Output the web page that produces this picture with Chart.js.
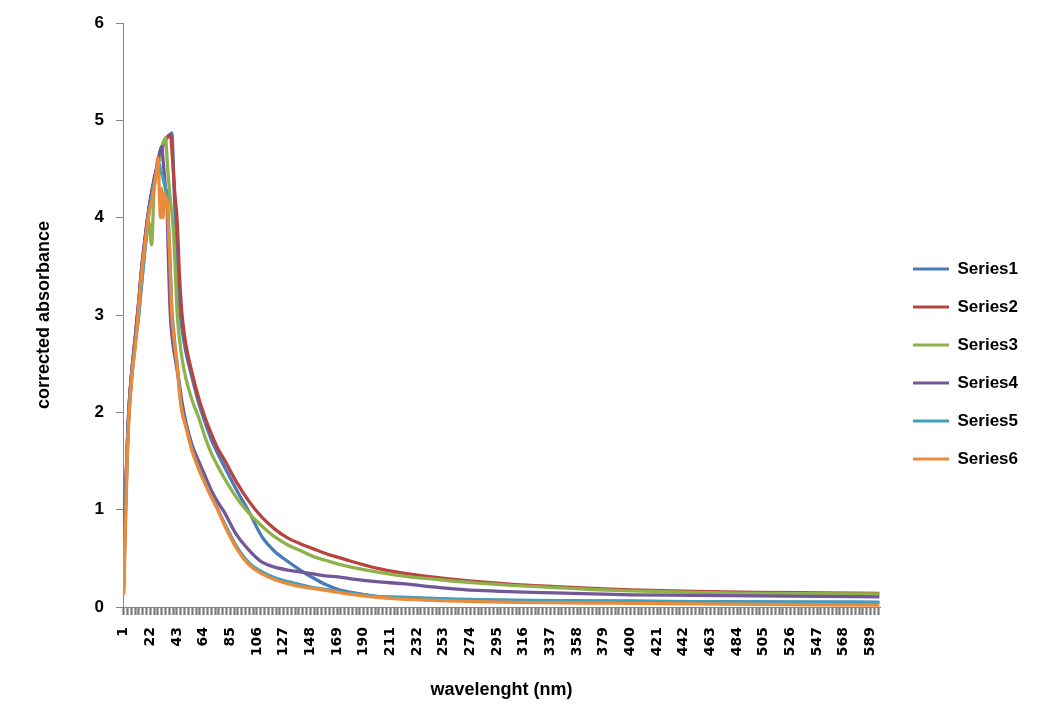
<!DOCTYPE html>
<html>
<head>
<meta charset="utf-8">
<script src="https://cdn.jsdelivr.net/npm/chart.js@4/dist/chart.umd.min.js"></script>
<style>
  body { margin: 0; background: #fff; }
</style>
</head>
<body>
<canvas id="myChart" width="1039" height="726"></canvas>
<script>
// posiciones (categorias)
const puntos = [1, 2, 3, 4, 5, 6, 8, 10, 13, 15, 18, 21, 23, 25, 27,
  28, 29, 30, 31, 32, 33, 34, 35, 36, 37, 38, 39, 40, 41, 42, 43,
  45, 47, 50, 55, 60, 65, 70, 75, 80, 90, 100, 110, 120, 130, 140, 150, 160, 170, 180,
  200, 220, 250, 280, 310, 340, 370, 400, 450, 500, 550, 596]

const series1 = [0.5, 0.95, 1.3, 1.7, 2.0, 2.2, 2.5, 2.75, 3.15, 3.45, 3.8, 4.1, 4.25, 4.38, 4.5,
  4.55, 4.6, 4.65, 4.7, 4.74, 4.77, 4.8, 4.82, 4.84, 4.85, 4.86, 4.87, 4.6, 4.2, 3.9, 3.6,
  3.1, 2.85, 2.62, 2.35, 2.1, 1.9, 1.72, 1.58, 1.45, 1.2, 0.97, 0.72, 0.57, 0.47, 0.38, 0.3, 0.23, 0.18, 0.15,
  0.11, 0.09, 0.08, 0.07, 0.066, 0.063, 0.06, 0.058, 0.055, 0.052, 0.05, 0.048]
const series2 = [0.6, 1.0, 1.35, 1.7, 2.0, 2.2, 2.5, 2.75, 3.15, 3.45, 3.8, 4.1, 4.25, 4.38, 4.5,
  4.55, 4.6, 4.65, 4.7, 4.74, 4.77, 4.8, 4.82, 4.83, 4.84, 4.85, 4.7, 4.5, 4.3, 4.15, 4.0,
  3.4, 3.0, 2.7, 2.4, 2.15, 1.95, 1.78, 1.63, 1.52, 1.28, 1.08, 0.92, 0.8, 0.71, 0.65, 0.6, 0.55, 0.51, 0.47,
  0.4, 0.35, 0.3, 0.26, 0.23, 0.21, 0.19, 0.175, 0.16, 0.15, 0.145, 0.14]
const series3 = [0.2, 0.8, 1.25, 1.65, 1.95, 2.15, 2.45, 2.7, 3.05, 3.3, 3.7, 3.95, 3.72, 4.3, 4.45,
  4.55, 4.6, 4.68, 4.73, 4.77, 4.8, 4.82, 4.65, 4.45, 4.3, 4.15, 4.05, 3.9, 3.65, 3.35, 3.05,
  2.75, 2.55, 2.35, 2.12, 1.95, 1.75, 1.58, 1.45, 1.33, 1.12, 0.96, 0.83, 0.72, 0.64, 0.58, 0.52, 0.48, 0.44, 0.41,
  0.36, 0.32, 0.28, 0.245, 0.22, 0.2, 0.18, 0.165, 0.15, 0.14, 0.137, 0.134]
const series4 = [0.7, 1.0, 1.35, 1.7, 2.0, 2.2, 2.5, 2.75, 3.15, 3.45, 3.8, 4.1, 4.25, 4.4, 4.52,
  4.6, 4.65, 4.7, 4.73, 4.6, 4.45, 4.3, 4.2, 3.7, 3.25, 2.95, 2.8, 2.68, 2.6, 2.52, 2.44,
  2.28, 2.1, 1.9, 1.66, 1.5, 1.35, 1.2, 1.08, 0.98, 0.74, 0.58, 0.46, 0.41, 0.38, 0.36, 0.34, 0.32, 0.31, 0.29,
  0.26, 0.24, 0.2, 0.17, 0.155, 0.145, 0.135, 0.125, 0.12, 0.115, 0.11, 0.105]
const series5 = [0.15, 0.7, 1.2, 1.6, 1.95, 2.15, 2.45, 2.7, 3.0, 3.3, 3.7, 4.05, 4.2, 4.35, 4.45,
  4.58, 4.55, 4.5, 4.45, 4.4, 4.35, 4.3, 4.25, 4.05, 3.75, 3.4, 3.05, 2.9, 2.75, 2.62, 2.52,
  2.22, 2.02, 1.86, 1.61, 1.43, 1.28, 1.14, 1.01, 0.87, 0.62, 0.45, 0.36, 0.3, 0.26, 0.23, 0.2, 0.18, 0.16, 0.14,
  0.11, 0.1, 0.085, 0.075, 0.07, 0.066, 0.063, 0.062, 0.056, 0.052, 0.05, 0.048]
const series6 = [0.12, 0.6, 1.1, 1.6, 1.9, 2.1, 2.45, 2.65, 3.1, 3.4, 3.75, 4.05, 4.15, 4.3, 4.5,
  4.62, 4.3, 4.0, 4.3, 4.0, 4.25, 4.2, 4.2, 4.0, 3.7, 3.35, 3.0, 2.85, 2.72, 2.6, 2.5,
  2.2, 2.0, 1.85, 1.6, 1.42, 1.27, 1.13, 1.0, 0.85, 0.6, 0.43, 0.34, 0.28, 0.24, 0.21, 0.19, 0.17, 0.15, 0.13,
  0.1, 0.08, 0.065, 0.055, 0.048, 0.044, 0.04, 0.038, 0.032, 0.027, 0.023, 0.02]

// etiquetas del eje x
const xLabels = [1, 22, 43, 64, 85, 106, 127, 148, 169, 190, 211, 232, 253, 274, 295, 316,
  337, 358, 379, 400, 421, 442, 463, 484, 505, 526, 547, 568, 589]
const yTicks = [0, 1, 2, 3, 4, 5, 6]

const nombres = ['Series1', 'Series2', 'Series3', 'Series4', 'Series5', 'Series6']
const colores = ['#4a7ab7', '#b8443f', '#8fb14c', '#735898', '#409fbb', '#ec8a3b']
const valores = [series1, series2, series3, series4, series5, series6]

const datasets = valores.map((serie, i) => ({
  label: nombres[i],
  data: serie.map((v, j) => ({ x: puntos[j], y: v })),
  borderColor: colores[i],
  backgroundColor: colores[i],
  borderWidth: 3.3,
  pointRadius: 0,
  pointHoverRadius: 0,
  pointStyle: 'line',
  pointBorderWidth: 3,
  pointBorderColor: colores[i],
  cubicInterpolationMode: 'monotone',
  order: 5 - i   // series6 arriba
}))

// mover la leyenda un poco
const moverLeyenda = {
  id: 'moverLeyenda',
  afterLayout(chart) {
    const l = chart.legend
    l.left += 12; l.right += 12
    l.top -= 10.5; l.bottom -= 10.5
  }
}

const ctx = document.getElementById('myChart')

new Chart(ctx, {
  type: 'line',
  data: { datasets },
  options: {
    responsive: false,
    animation: false,
    devicePixelRatio: 1,
    layout: { padding: { top: 23, right: 23, bottom: 0, left: 0 } },
    plugins: {
      tooltip: { enabled: false },
      legend: {
        position: 'right',
        reverse: true,
        labels: {
          usePointStyle: true,
          pointStyleWidth: 36,
          padding: 21,
          color: '#000',
          font: { family: 'Liberation Sans', size: 17, weight: 'bold' }
        }
      }
    },
    scales: {
      x: {
        type: 'linear',
        min: 0.5,
        max: 596.5,
        afterBuildTicks: (scale) => {
          const t = []
          for (let v = 1; v <= 596; v += 3) t.push({ value: v })
          scale.ticks = t
        },
        afterFit: (scale) => { scale.height = 119 },
        border: { color: '#868686', width: 1 },
        grid: { drawOnChartArea: false, drawTicks: true, tickLength: 8, tickWidth: 2.2, tickColor: '#7a7a7a' },
        ticks: {
          autoSkip: false,
          minRotation: 90,
          maxRotation: 90,
          padding: 12,
          color: '#000',
          font: { family: 'DejaVu Sans', size: 14, weight: 'bold' },
          callback: (v) => xLabels.includes(v) ? String(v) : ''
        },
        title: {
          display: true,
          text: 'wavelenght (nm)',
          color: '#000',
          padding: { top: 0, bottom: 25 },
          font: { family: 'Liberation Sans', size: 18, weight: 'bold' }
        }
      },
      y: {
        min: 0,
        max: 6,
        afterBuildTicks: (scale) => { scale.ticks = yTicks.map(v => ({ value: v })) },
        afterFit: (scale) => { scale.width = 123 },
        border: { color: '#868686', width: 1 },
        grid: { drawOnChartArea: false, drawTicks: true, tickLength: 7, tickColor: '#868686' },
        ticks: {
          padding: 12,
          color: '#000',
          font: { family: 'Liberation Sans', size: 17, weight: 'bold' }
        },
        title: {
          display: true,
          text: 'corrected absorbance',
          color: '#000',
          padding: { top: 33, bottom: 0 },
          font: { family: 'Liberation Sans', size: 18, weight: 'bold' }
        }
      }
    }
  },
  plugins: [moverLeyenda]
})
</script>
</body>
</html>
